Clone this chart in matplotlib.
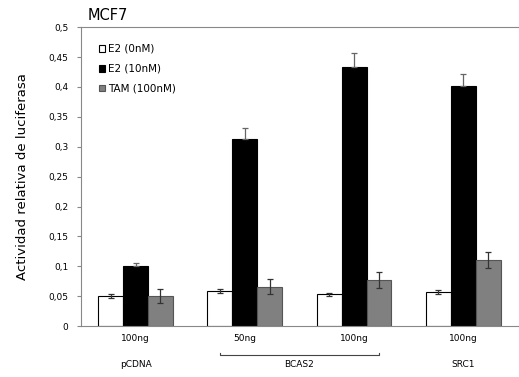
import numpy as np
import matplotlib.pyplot as plt

doses = ['100ng', '50ng', '100ng', '100ng']
groups = ['pCDNA', 'BCAS2', 'SRC1']
series = ['E2 (0nM)', 'E2 (10nM)', 'TAM (100nM)']
e2_0 = [0.050, 0.059, 0.053, 0.057]
e2_0_err = [0.003, 0.003, 0.003, 0.003]
e2_10 = [0.100, 0.313, 0.434, 0.402]
e2_10_err = [0.005, 0.019, 0.023, 0.019]
tam = [0.050, 0.066, 0.077, 0.111]
tam_err = [0.012, 0.013, 0.013, 0.013]
yticks = [0, 0.05, 0.1, 0.15, 0.2, 0.25, 0.3, 0.35, 0.4, 0.45, 0.5]


def main():
    fig = plt.figure(figsize=(5.19, 3.77), dpi=100)
    ax = fig.add_axes([0.156, 0.135, 0.842, 0.793])

    x = np.arange(len(doses))
    w = 0.228
    ek = dict(ecolor='#333333', elinewidth=0.9, capsize=2.5, capthick=0.9)
    ax.bar(x - w, e2_0, w, yerr=e2_0_err, color='white', edgecolor='black',
           linewidth=0.8, label=series[0], error_kw=ek)
    # lower half of the black bar's error is hidden inside the bar
    ax.bar(x, e2_10, w, yerr=[np.zeros(len(e2_10)), e2_10_err], color='black',
           edgecolor='black', linewidth=0.8, label=series[1],
           error_kw=dict(ek, ecolor='#666666'))
    ax.bar(x + w, tam, w, yerr=tam_err, color='#808080', edgecolor='#555555',
           linewidth=0.8, label=series[2], error_kw=ek)

    ax.set_xlim(-0.5, 3.5)
    ax.set_ylim(0, 0.5)
    ax.set_yticks(yticks)
    ax.set_yticklabels([('%g' % t).replace('.', ',') for t in yticks], fontsize=6.5)
    ax.set_xticks([])
    ax.spines['right'].set_visible(False)
    for s in ['left', 'top', 'bottom']:
        ax.spines[s].set_color('#888888')
    ax.tick_params(axis='y', length=3, color='#888888', pad=6)

    for i, d in enumerate(doses):
        ax.text(x[i], -0.02, d, ha='center', va='center', fontsize=6.5)
    centers = [0, 1.5, 3]
    for c, g in zip(centers, groups):
        ax.text(c, -0.064, g, ha='center', va='center', fontsize=6.5)
    ax.plot([1 - w, 1 - w, 2 + w, 2 + w], [-0.045, -0.049, -0.049, -0.045],
            color='#444444', lw=0.8, clip_on=False)

    ax.set_ylabel('Actividad relativa de luciferasa', fontsize=9.5, labelpad=14)
    ax.text(0.015, 1.015, 'MCF7', transform=ax.transAxes, fontsize=10.5,
            ha='left', va='bottom')

    ax.legend(loc='upper left', bbox_to_anchor=(0.02, 0.975), frameon=False,
              fontsize=7.5, handlelength=0.6, handleheight=0.6, handletextpad=0.3,
              labelspacing=0.95)

    fig.savefig('out.png', dpi=100)


if __name__ == '__main__':
    main()
